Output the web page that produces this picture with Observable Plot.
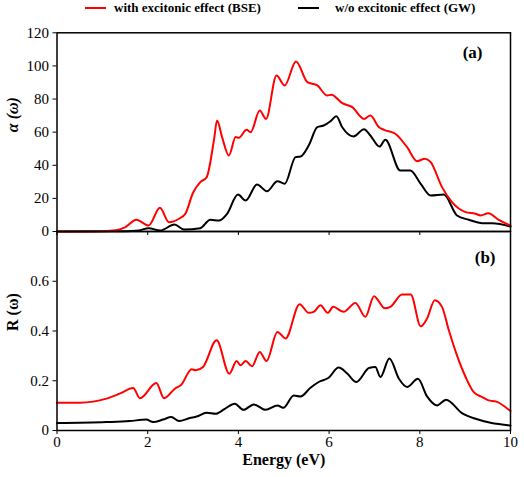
<!DOCTYPE html>
<html>
<head>
<meta charset="utf-8">
<script src="https://cdn.jsdelivr.net/npm/d3@7"></script>
<script src="https://cdn.jsdelivr.net/npm/@observablehq/plot@0.6"></script>
<style>
  html, body { margin: 0; padding: 0; background: #fff; }
  #wrap { position: relative; width: 524px; height: 477px; font-family: Liberation Serif, DejaVu Serif, serif; }
  #legend { position: absolute; top: 0; left: 0; width: 524px; height: 16px; font-weight: bold; font-size: 13px; }
  .lg { position: absolute; top: 0; display: flex; align-items: center; height: 15px; }
  .sw { width: 21px; height: 2px; margin-right: 8px; }
  #top, #bot { position: absolute; left: 0; }
  #top { top: 0; }
  #bot { top: 226px; }
  svg text { font-family: Liberation Serif, DejaVu Serif, serif !important; }
</style>
</head>
<body>
<div id="wrap">
  <div id="legend">
    <div class="lg" style="left:85px"><div class="sw" style="background:#ff0000"></div><span>with excitonic effect (BSE)</span></div>
    <div class="lg" style="left:298px"><div class="sw" style="background:#000"></div><span style="margin-left:8px">w/o excitonic effect (GW)</span></div>
  </div>
  <div id="top"></div>
  <div id="bot"></div>
</div>
<script>
// Energy axis (eV) samples and values
const bseAlphaE = [0, 0.5, 1.0, 1.3, 1.5, 1.75, 2.02, 2.27, 2.47, 2.69, 2.83, 3.0, 3.16, 3.30, 3.46, 3.53, 3.64, 3.79, 3.94, 4.01, 4.18, 4.27, 4.47, 4.61, 4.84, 5.02, 5.27, 5.52, 5.74, 5.96, 6.05, 6.29, 6.51, 6.77, 6.91, 7.10, 7.21, 7.46, 7.72, 7.94, 8.11, 8.24, 8.49, 8.71, 9.01, 9.23, 9.34, 9.51, 9.74, 10];
const bseAlpha  = [0, 0, 0.2, 0.8, 2.5, 7.1, 3.6, 14.3, 5.6, 7.7, 10.7, 23.4, 29.8, 32.8, 55, 67, 57, 45.9, 57, 56.6, 61.4, 60, 73, 68, 94.2, 88.2, 102.7, 90.2, 88.2, 82.1, 82.6, 77.5, 75.1, 68, 70, 63, 61.4, 59, 50.9, 42.5, 43.9, 41.9, 26.8, 17.7, 11.7, 10.7, 9.7, 11, 7, 3.6];

const gwAlphaE = [0, 1.5, 1.8, 2.02, 2.28, 2.59, 2.80, 3.16, 3.38, 3.57, 3.75, 3.99, 4.16, 4.41, 4.63, 4.86, 5.02, 5.26, 5.37, 5.55, 5.74, 5.88, 6.03, 6.16, 6.29, 6.54, 6.77, 6.91, 7.11, 7.24, 7.57, 7.79, 8.02, 8.24, 8.53, 8.82, 9.08, 9.38, 9.6, 10];
const gwAlpha  = [0, 0.1, 0.6, 2, 0.6, 4.2, 1.2, 2, 7.1, 6.6, 10.7, 22.3, 18.7, 28.4, 24.3, 30.4, 28.8, 44.9, 45.3, 51.9, 63, 64, 66.6, 69.6, 63, 57.4, 61.8, 58, 51.3, 55.4, 36.8, 36.8, 28.8, 21.7, 22.3, 9.7, 7.1, 5, 5, 3.0];

const bseRE = [0, 0.5, 1.09, 1.38, 1.68, 1.83, 2.19, 2.36, 2.60, 2.74, 2.97, 3.06, 3.22, 3.52, 3.80, 3.96, 4.05, 4.16, 4.30, 4.47, 4.62, 4.86, 5.04, 5.35, 5.55, 5.66, 5.81, 5.97, 6.09, 6.32, 6.58, 6.80, 6.99, 7.23, 7.35, 7.61, 7.80, 8.02, 8.16, 8.33, 8.49, 8.64, 8.82, 9.01, 9.19, 9.38, 9.52, 9.67, 10];
const bseR  = [0.112, 0.112, 0.128, 0.148, 0.171, 0.130, 0.191, 0.130, 0.168, 0.184, 0.246, 0.242, 0.255, 0.363, 0.228, 0.279, 0.262, 0.279, 0.258, 0.316, 0.279, 0.396, 0.370, 0.508, 0.473, 0.477, 0.504, 0.473, 0.497, 0.477, 0.513, 0.457, 0.540, 0.491, 0.497, 0.547, 0.547, 0.419, 0.450, 0.524, 0.497, 0.403, 0.302, 0.215, 0.154, 0.134, 0.121, 0.117, 0.078];

const gwRE = [0, 1.09, 1.6, 1.97, 2.12, 2.34, 2.52, 2.69, 2.93, 3.08, 3.30, 3.50, 3.70, 3.92, 4.11, 4.34, 4.60, 4.86, 4.99, 5.22, 5.37, 5.59, 5.77, 5.99, 6.21, 6.40, 6.60, 6.88, 7.02, 7.13, 7.33, 7.54, 7.72, 7.96, 8.16, 8.38, 8.58, 8.93, 9.23, 9.56, 10];
const gwR  = [0.030, 0.034, 0.038, 0.044, 0.034, 0.044, 0.054, 0.038, 0.050, 0.056, 0.071, 0.067, 0.087, 0.108, 0.083, 0.105, 0.083, 0.101, 0.091, 0.141, 0.137, 0.172, 0.195, 0.212, 0.253, 0.229, 0.195, 0.251, 0.255, 0.215, 0.289, 0.208, 0.175, 0.208, 0.137, 0.101, 0.124, 0.070, 0.047, 0.031, 0.020];

const xTicks = [0, 2, 4, 6, 8, 10];
const alphaTicks = [0, 20, 40, 60, 80, 100, 120];
const rTicks = [0, 0.2, 0.4, 0.6];

const zip = (xs, ys) => xs.map((x, i) => ({E: x, v: ys[i]}));
const baseStyle = {fontFamily: "Liberation Serif, DejaVu Serif, serif", fontSize: "15px", background: "transparent", overflow: "visible"};

const topPlot = Plot.plot({
  width: 524, height: 236,
  marginLeft: 56.5, marginRight: 14, marginTop: 32.3, marginBottom: 5,
  style: baseStyle,
  x: {domain: [0, 10]},
  y: {domain: [0, 120]},
  marks: [
    Plot.axisY({ticks: alphaTicks, tickSize: 4, tickPadding: 4, label: null, tickFormat: d => String(d)}),
    Plot.axisX({ticks: xTicks, tickSize: 4, tickFormat: () => "", label: null}),
    Plot.line(zip(gwAlphaE, gwAlpha), {x: "E", y: "v", stroke: "#000", strokeWidth: 2, curve: "monotone-x"}),
    Plot.line(zip(bseAlphaE, bseAlpha), {x: "E", y: "v", stroke: "#ff0000", strokeWidth: 2, curve: "monotone-x"}),
    Plot.frame({stroke: "#000", strokeWidth: 1.5}),
    Plot.text(["α (ω)"], {frameAnchor: "left", rotate: -90, dx: -44, fontWeight: "bold", fontSize: 16, fontStyle: "italic"}),
    Plot.text(["(a)"], {frameAnchor: "top-right", dx: -28, dy: 13, fontWeight: "bold", fontSize: 17})
  ]
});

const botPlot = Plot.plot({
  width: 524, height: 251,
  marginLeft: 56.5, marginRight: 14, marginTop: 5, marginBottom: 47,
  style: baseStyle,
  x: {domain: [0, 10]},
  y: {domain: [0, 0.8]},
  marks: [
    Plot.axisY({ticks: rTicks, tickSize: 4, tickPadding: 4, label: null, tickFormat: d => d === 0 ? "0" : d.toFixed(1)}),
    Plot.axisX({ticks: xTicks, tickSize: 4, tickPadding: 2, label: null, tickFormat: d => String(d)}),
    Plot.line(zip(gwRE, gwR), {x: "E", y: "v", stroke: "#000", strokeWidth: 2, curve: "monotone-x"}),
    Plot.line(zip(bseRE, bseR), {x: "E", y: "v", stroke: "#ff0000", strokeWidth: 2, curve: "monotone-x"}),
    Plot.frame({stroke: "#000", strokeWidth: 1.5}),
    Plot.text(["R (ω)"], {frameAnchor: "left", rotate: -90, dx: -44, fontWeight: "bold", fontSize: 16}),
    Plot.text(["(b)"], {frameAnchor: "top-right", dx: -15, dy: 19, fontWeight: "bold", fontSize: 17}),
    Plot.text(["Energy (eV)"], {frameAnchor: "bottom", dy: 34, fontWeight: "bold", fontSize: 16})
  ]
});

document.getElementById("top").appendChild(topPlot);
document.getElementById("bot").appendChild(botPlot);
</script>
</body>
</html>
